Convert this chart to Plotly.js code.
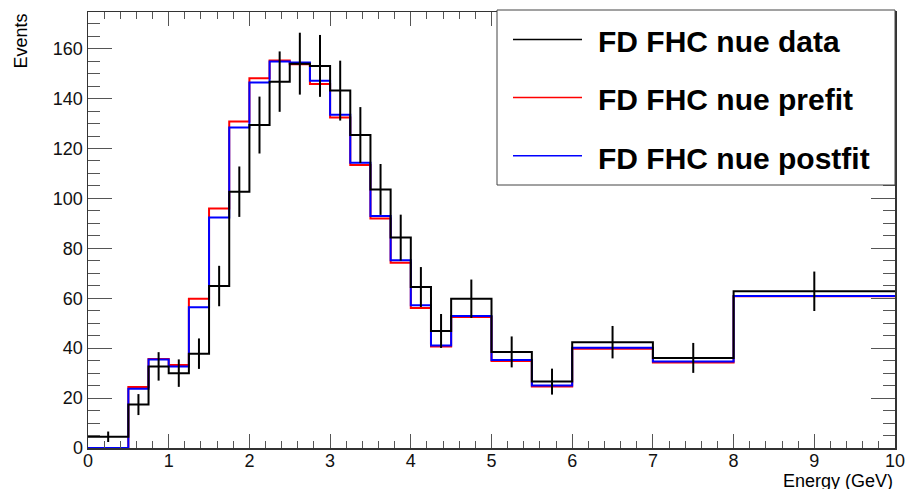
<!DOCTYPE html>
<html>
<head>
<meta charset="utf-8">
<script src="https://cdn.plot.ly/plotly-3.0.1.min.js"></script>
<style>
html,body{margin:0;padding:0;background:#fff;}
#chart{width:909px;height:489px;}
</style>
</head>
<body>
<div id="chart"></div>
<script>
// Bin edges (GeV)
const binEdges = [0, 0.5, 0.75, 1.0, 1.25, 1.5, 1.75, 2.0, 2.25, 2.5, 2.75, 3.0, 3.25, 3.5, 3.75, 4.0, 4.25, 4.5, 5.0, 5.5, 6.0, 7.0, 8.0, 10.0];
// FD FHC nue data (events per bin) and its error bars
const dataEvents = [4.5, 17.4, 32.7, 30.0, 37.8, 64.9, 102.7, 129.4, 146.8, 154.0, 153.1, 143.2, 125.4, 103.6, 84.3, 64.5, 46.9, 59.8, 38.5, 26.6, 42.4, 36.1, 62.8];
const dataErrors = [2.1, 4.2, 5.7, 5.5, 6.1, 8.1, 10.1, 11.4, 12.1, 12.4, 12.4, 12.0, 11.2, 10.2, 9.2, 8.0, 6.8, 7.7, 6.2, 5.2, 6.5, 6.0, 7.9];
// FD FHC nue prefit prediction
const prefitEvents = [0, 24.4, 35.7, 33.3, 59.8, 96.0, 130.8, 148.2, 155.3, 153.8, 145.9, 132.4, 113.4, 92.0, 74.2, 56.1, 40.7, 52.5, 34.9, 24.6, 39.8, 34.3, 60.8];
// FD FHC nue postfit prediction
const postfitEvents = [0, 23.7, 35.5, 32.7, 56.4, 92.4, 128.4, 146.5, 154.9, 154.5, 147.2, 133.5, 114.3, 93.0, 75.2, 57.2, 41.1, 52.9, 35.3, 25.0, 40.2, 34.7, 60.9];
// Legend labels and axis labels
const seriesNames = ["FD FHC nue data", "FD FHC nue prefit", "FD FHC nue postfit"];
const seriesColors = ["#000000", "#ff0000", "#0000ff"];
const xTitle = "Energy (GeV)";
const yTitle = "Events";

function stepY(vals){ return vals.concat([vals[vals.length-1]]); }
const centers = binEdges.slice(0, -1).map((e, i) => (e + binEdges[i+1]) / 2);

const traces = [
  {x: binEdges, y: stepY(prefitEvents), mode: 'lines', line: {shape: 'hv', color: seriesColors[1], width: 2}, name: seriesNames[1], showlegend: false, cliponaxis: false},
  {x: binEdges, y: stepY(postfitEvents), mode: 'lines', line: {shape: 'hv', color: seriesColors[2], width: 2}, name: seriesNames[2], showlegend: false, cliponaxis: false},
  {x: binEdges, y: stepY(dataEvents), mode: 'lines', line: {shape: 'hv', color: seriesColors[0], width: 2}, name: seriesNames[0], showlegend: false},
  {x: centers, y: dataEvents, mode: 'markers', marker: {size: 1, color: 'rgba(0,0,0,0)'}, error_y: {type: 'data', array: dataErrors, visible: true, width: 0, thickness: 2, color: '#000'}, showlegend: false, hoverinfo: 'skip'}
];

const font = 'Liberation Sans, Arial, Helvetica, sans-serif';
const plotL = 88, plotR = 895, plotT = 12, plotB = 448;
const W = plotR - plotL, H = plotB - plotT;
function px(x){ return (x - plotL) / W; }
function py(y){ return (plotB - y) / H; }

const shapes = [
  {type: 'rect', xref: 'paper', yref: 'paper', x0: px(497), x1: px(895), y0: py(185), y1: py(10), line: {color: '#444', width: 1}, fillcolor: '#fff', layer: 'above'}
];
const legY = [39.5, 97.5, 155.7];
const legTextY = [41.5, 99.5, 158];
const annotations = [];
for (let i = 0; i < 3; i++) {
  shapes.push({type: 'line', xref: 'paper', yref: 'paper', x0: px(513), x1: px(582), y0: py(legY[i]), y1: py(legY[i]), line: {color: seriesColors[i], width: 1.5}, layer: 'above'});
  annotations.push({xref: 'paper', yref: 'paper', x: px(596), y: py(legTextY[i]), xanchor: 'left', yanchor: 'middle', text: '<b>' + seriesNames[i] + '</b>', showarrow: false, font: {family: font, size: 30, color: '#000'}});
}
annotations.push({xref: 'paper', yref: 'paper', x: 1, y: py(480.5), xanchor: 'right', yanchor: 'middle', text: xTitle, showarrow: false, font: {family: font, size: 18, color: '#000'}});
annotations.push({xref: 'paper', yref: 'paper', x: px(20), y: 1, xanchor: 'center', yanchor: 'top', textangle: -90, text: yTitle, showarrow: false, font: {family: font, size: 18, color: '#000'}});

const layout = {
  width: 909, height: 489,
  margin: {l: plotL, r: 909 - plotR, t: plotT, b: 489 - plotB},
  paper_bgcolor: '#fff', plot_bgcolor: '#fff',
  showlegend: false,
  xaxis: {range: [0, 10], tickmode: 'linear', tick0: 0, dtick: 1, ticks: 'inside', ticklen: 14, tickwidth: 1, tickcolor: '#555',
          minor: {dtick: 0.2, ticks: 'inside', ticklen: 7, tickcolor: '#555', tickwidth: 1, showgrid: false},
          showline: true, linecolor: '#333', linewidth: 1.5, mirror: 'ticks', showgrid: false, zeroline: false,
          ticklabelstandoff: -4,
          tickfont: {family: font, size: 18, color: '#111'}},
  yaxis: {range: [0, 174.7], tickmode: 'linear', tick0: 0, dtick: 20, ticks: 'inside', ticklen: 24, tickwidth: 1, tickcolor: '#555',
          minor: {dtick: 5, ticks: 'inside', ticklen: 12, tickcolor: '#555', tickwidth: 1, showgrid: false},
          showline: true, linecolor: '#333', linewidth: 1.5, mirror: 'ticks', showgrid: false, zeroline: false,
          tickfont: {family: font, size: 18, color: '#111'}},
  shapes: shapes,
  annotations: annotations
};

Plotly.newPlot('chart', traces, layout, {staticPlot: true, displayModeBar: false});
</script>
</body>
</html>
